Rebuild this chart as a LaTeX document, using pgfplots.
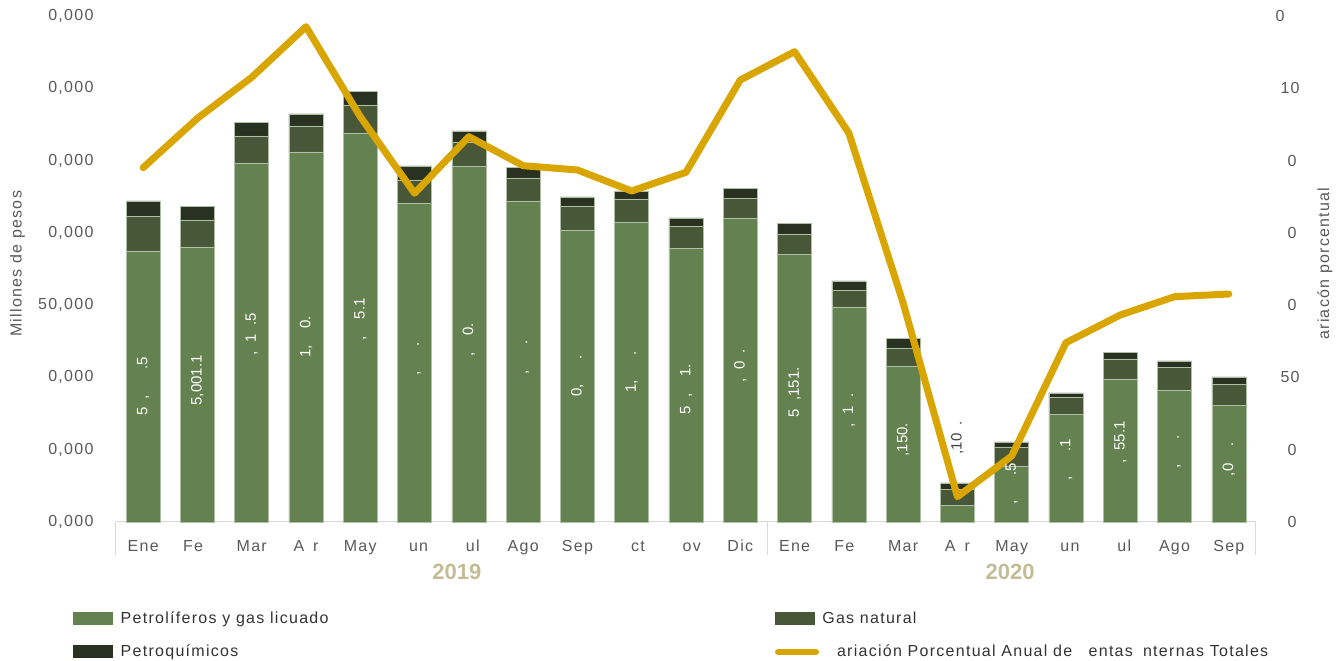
\documentclass[border=0pt]{standalone}
\usepackage{pgfplots}
\pgfplotsset{compat=1.18}
\usepackage{fontspec}
\setmainfont{Liberation Sans}[LetterSpace=8]
\newfontfamily\plainfont{Liberation Sans}
\definecolor{lg}{RGB}{100,129,80}
\definecolor{dg}{RGB}{71,87,56}
\definecolor{bk}{RGB}{41,50,32}
\definecolor{gold}{RGB}{217,165,0}
\definecolor{year}{RGB}{196,188,150}
\definecolor{tickgray}{RGB}{89,89,89}
\definecolor{axgray}{RGB}{217,217,217}
\definecolor{edge}{RGB}{175,190,165}
\newcommand\ph{\phantom{0}}
\begin{document}
\begin{tikzpicture}[x=1pt,y=1pt]
\useasboundingbox (0,0) rectangle (1342,661);
\begin{axis}[
  at={(116pt,139pt)}, anchor=south west,
  scale only axis, width=1140pt, height=506pt,
  xmin=-0.5, xmax=20.5, ymin=0, ymax=506,
  ybar stacked, bar width=34pt,
  clip=false,
  axis x line*=bottom, axis y line*=left,
  x axis line style={draw=axgray, line width=1pt, -},
  y axis line style={draw=none},
  major tick length=0pt,
  tick style={draw=none},
  xtick={0,...,20},
  xticklabels={Ene,Fe\phantom{b},Mar,A\phantom{b}r,May,\phantom{J}un,\phantom{J}ul,Ago,Sep,\phantom{O}ct,\phantom{N}ov,Dic,Ene,Fe\phantom{b},Mar,A\phantom{b}r,May,\phantom{J}un,\phantom{J}ul,Ago,Sep},
  xticklabel style={font=\fontsize{16}{19}\selectfont, text=tickgray, anchor=base, yshift=-30pt},
  ytick={0,72.2857,144.5714,216.8571,289.1429,361.4286,433.7143,506},
  yticklabels={{0,000},{0,000},{0,000},{50,000},{0,000},{0,000},{0,000},{0,000}},
  yticklabel style={font=\fontsize{16}{19}\selectfont, text=tickgray, anchor=east, xshift=-19pt},
  legend columns=2,
  legend cell align=left,
  legend style={at={(axis description cs:-0.0404,-0.169)}, anchor=north west, draw=none, fill=none,
    font=\fontsize{16}{19}\selectfont, text=black!80, row sep=16pt,
    /tikz/every even column/.append style={column sep=0pt}},
]
\addplot[fill=lg, draw=edge, line width=0.6pt, legend image code/.code={\fill[lg] (0pt,-6pt) rectangle (39pt,6pt); \path (45pt,0pt);}] coordinates {
(0,271) (1,275) (2,359) (3,370) (4,389) (5,318.3) (6,356) (7,321) (8,292) (9,300) (10,273.7)
(11,304) (12,267.7) (13,215) (14,156) (15,16.3) (16,56) (17,107.3) (18,143) (19,132) (20,116.7)};
\addlegendentry{\makebox[652pt][l]{Petrolíferos y gas licuado}}
\addplot[fill=dg, draw=edge, line width=0.6pt, legend image code/.code={\fill[dg] (0pt,-6pt) rectangle (39pt,6pt); \path (45pt,0pt);}] coordinates {
(0,34.7) (1,27) (2,27) (3,26) (4,28) (5,23.7) (6,24) (7,23) (8,24) (9,23) (10,22)
(11,19.7) (12,20.3) (13,16.7) (14,17.3) (15,16) (16,19) (17,17) (18,20) (19,22.3) (20,21.3)};
\addlegendentry{Gas natural}
\addplot[fill=bk, draw=edge, line width=0.6pt, legend image code/.code={\fill[bk] (0pt,-6pt) rectangle (39pt,6pt); \path (45pt,0pt);}] coordinates {
(0,15.3) (1,13.7) (2,13.3) (3,12) (4,13.3) (5,14) (6,11) (7,10.7) (8,9) (9,8) (10,8.3)
(11,10) (12,10.7) (13,9.3) (14,10.4) (15,6.7) (16,5) (17,4.7) (18,6.3) (19,6.7) (20,7)};
\addlegendentry{\makebox[652pt][l]{Petroquímicos}}
\addlegendimage{legend image code/.code={\draw[gold, line width=6pt, line cap=round] (3pt,0pt) -- (41pt,0pt); \path (0pt,0pt) (45pt,0pt);}}
\addlegendentry{\hspace{4pt}\phantom{V}ariación Porcentual Anual de \phantom{V}entas \phantom{I}nternas Totales}
\draw[axgray, line width=1pt] (axis cs:-0.5,0) -- ([yshift=-33pt]axis cs:-0.5,0);
\draw[axgray, line width=1pt] (axis cs:11.5,0) -- ([yshift=-33pt]axis cs:11.5,0);
\draw[axgray, line width=1pt] (axis cs:20.5,0) -- ([yshift=-33pt]axis cs:20.5,0);
\node[text=year, font=\plainfont\fontsize{22}{24}\selectfont\bfseries] at (axis cs:5.78,-50) {2019};
\node[text=year, font=\plainfont\fontsize{22}{24}\selectfont\bfseries] at (axis cs:15.97,-50) {2020};
\node[rotate=90, text=tickgray, font=\fontsize{16}{19}\selectfont] at (axis description cs:-0.0864,0.51) {Millones de pesos};
\node[rotate=90, text=tickgray, font=\fontsize{16}{19}\selectfont] at (axis description cs:1.0605,0.5) {\phantom{V}ariacón porcentual};
\end{axis}
\begin{axis}[
  at={(116pt,139pt)}, anchor=south west,
  scale only axis, width=1140pt, height=506pt,
  xmin=-0.5, xmax=20.5, ymin=0, ymax=506,
  clip=false,
  hide x axis,
  axis y line*=right,
  y axis line style={draw=none},
  major tick length=0pt,
  tick style={draw=none},
  ytick={0,72.2857,144.5714,216.8571,289.1429,361.4286,433.7143,506},
  yticklabels={\hspace{12pt}0,\hspace{12pt}0,\hspace{5pt}50,\hspace{12pt}0,\hspace{12pt}0,\hspace{12pt}0,\hspace{5pt}10,0},
  yticklabel style={font=\fontsize{16}{19}\selectfont, text=tickgray, anchor=west, xshift=16pt},
]
\addplot[draw=none, mark=none, point meta=explicit symbolic, nodes near coords,
  nodes near coords style={anchor=center, rotate=90, text=white, font=\plainfont\fontsize{15}{17}\selectfont}]
coordinates {
(0,135.5) [5\ph,\ph\ph\ph.5]
(1,137.5) [\ph5,001.1]
(2,179.5) [\ph\ph,\ph1\ph.5]
(3,185) [\ph1,\ph\ph0.\ph]
(4,194.5) [\ph\ph,\ph\ph5.1]
(5,159.2) [\ph\ph,\ph\ph\ph.\ph]
(6,178) [\ph\ph,\ph\ph0.\ph]
(7,160.5) [\ph\ph,\ph\ph\ph.\ph]
(8,146) [\ph0,\ph\ph\ph.\ph]
(9,150) [\ph1,\ph\ph\ph.\ph]
(10,136.9) [5\ph,\ph\ph1.\ph]
(11,152) [\ph\ph,\ph0\ph.\ph]
(12,133.9) [5\ph,151.\ph]
(13,107.5) [\ph\ph,\ph1\ph.\ph]
(14,78) [\ph\ph,150.\ph]
(16,30) [\ph\ph,\ph\ph\ph.5]
(17,53.7) [\ph\ph,\ph\ph\ph.1]
(18,71.5) [\ph\ph,\ph55.1]
(19,66) [\ph\ph,\ph\ph\ph.\ph]
(20,58.4) [\ph\ph,0\ph\ph.\ph]
};
\addplot[draw=none, mark=none, point meta=explicit symbolic, nodes near coords,
  nodes near coords style={anchor=center, rotate=90, text=black!75, font=\plainfont\fontsize{15}{17}\selectfont}]
coordinates {(15,80) [\ph\ph,10\ph.\ph]};
\addplot[gold, line width=7pt, line join=round, line cap=round, mark=none] coordinates {
(0,354.3) (1,403.7) (2,444.7) (3,495.3) (4,405.3) (5,328.7) (6,385.3) (7,356.3) (8,352) (9,331) (10,349.7)
(11,442) (12,470.3) (13,389) (14,219) (15,25.3) (16,66) (17,179.3) (18,207) (19,225.3) (20,228)};
\end{axis}
\end{tikzpicture}
\end{document}
